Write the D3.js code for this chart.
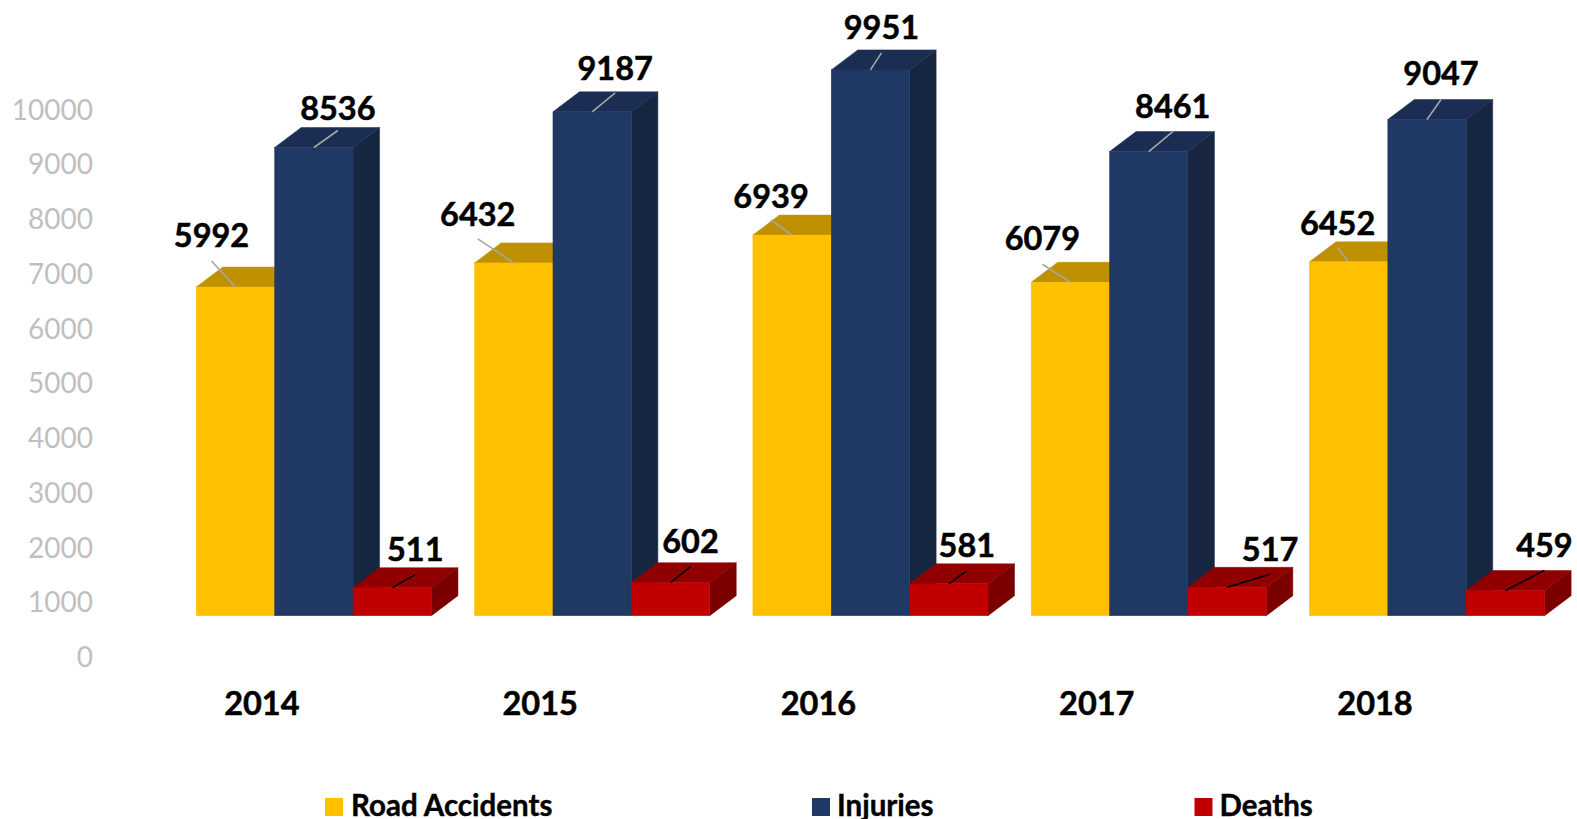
<!DOCTYPE html>
<html>
<head>
<meta charset="utf-8">
<script src="https://cdn.jsdelivr.net/npm/d3@7"></script>
<style>
  html, body { margin: 0; padding: 0; background: #fff; overflow: hidden; }
  text { font-family: Lato, "Open Sans", sans-serif; }
</style>
</head>
<body>
<div id="container"></div>
<script>
/* CONSTANTS AND GLOBALS */
const width = 1577,
  height = 819;

// DATA
const years = ["2014", "2015", "2016", "2017", "2018"];
const seriesNames = ["Road Accidents", "Injuries", "Deaths"];
const roadAccidents = [5992, 6432, 6939, 6079, 6452];
const injuries = [8536, 9187, 9951, 8461, 9047];
const deaths = [511, 602, 581, 517, 459];
const yTicks = [0, 1000, 2000, 3000, 4000, 5000, 6000, 7000, 8000, 9000, 10000];

// COLOURS: FRONT, TOP, SIDE OF EACH BOX
const colors = [
  { front: "#FFC000", top: "#BF9000", side: "#BF9000", leader: "#a6a6a6" },
  { front: "#203864", top: "#1B2D52", side: "#172640", leader: "#a6a6a6" },
  { front: "#C00000", top: "#900000", side: "#7A0000", leader: "#000" },
];

// MOVED LABELS: WHERE EACH LEADER LINE ENDS, RELATIVE TO THE TOP OF ITS BAR
const leaderOffsets = [
  [[-24, -26], [-36, -24], [-21, -15], [-28, -18], [-11, -14]],
  [[24, -17], [23, -19], [11, -17], [24, -20], [14, -20]],
  [[23, -13], [20, -16], [18, -13], [43, -13], [39, -20]],
];
// HOW FAR EACH LABEL SITS ABOVE THE END OF ITS LEADER LINE
const labelGaps = [
  [26.5, 25.5, 24.5, 26.5, 25.5],
  [23.5, 25.5, 26.5, 26.5, 26.5],
  [26.5, 26.5, 26.5, 25.5, 26.5],
];

const depthX = 26.5,
  depthY = 20,
  floorY = 615.7;

const svg = d3.select("#container")
  .append("svg")
  .attr("width", width)
  .attr("height", height)
  .style("display", "block");

// SCALES
const x0 = d3.scaleBand()
  .domain(years)
  .range([196.3, 1544.6])
  .paddingInner(0.155)
  .paddingOuter(0);

const x1 = d3.scaleBand()
  .domain(seriesNames)
  .range([0, x0.bandwidth()]);

const yAxisScale = d3.scaleLinear()
  .domain([0, 10000])
  .range([657.6, 110.2]);

// THE BARS STAND ON A RAISED 3D FLOOR, SO THEY GET THEIR OWN ZERO
const yBar = d3.scaleLinear()
  .domain([0, 10000])
  .range([floorY, floorY - 548.5]);

// AXES
const yAxis = svg.append("g")
  .attr("transform", "translate(93,0)")
  .call(d3.axisLeft(yAxisScale).tickValues(yTicks).tickFormat(d3.format("d")).tickSize(0).tickPadding(0));
yAxis.select(".domain").remove();
yAxis.selectAll("text")
  .attr("fill", "#bfbfbf")
  .style("font-family", "Lato")
  .style("font-size", "28px");

const xAxis = svg.append("g")
  .attr("transform", "translate(-52,692)")
  .call(d3.axisBottom(x0).tickSize(0).tickPadding(0));
xAxis.select(".domain").remove();
xAxis.selectAll("text")
  .attr("fill", "#000")
  .attr("stroke", "#000")
  .attr("stroke-width", 0.5)
  .style("font-family", "Lato")
  .style("font-weight", "700")
  .style("font-size", "32.5px");

// BARS
const seriesValues = [roadAccidents, injuries, deaths];
const flatBars = seriesNames.flatMap((name, s) =>
  years.map((year, i) => ({
    year,
    name,
    s,
    value: seriesValues[s][i],
    offset: leaderOffsets[s][i],
    gap: labelGaps[s][i],
  }))
);

const barX = d => x0(d.year) + x1(d.name);

const bars = svg.selectAll("g.bar")
  .data(flatBars.slice().sort((a, b) => d3.ascending(a.year, b.year) || a.s - b.s))
  .join("g")
  .attr("class", "bar");

bars.append("path")
  .attr("fill", d => colors[d.s].side)
  .attr("stroke", d => colors[d.s].side)
  .attr("stroke-width", 0.5)
  .attr("d", d => {
    const x = barX(d) + x1.bandwidth(), t = yBar(d.value);
    return `M${x},${t}L${x + depthX},${t - depthY}L${x + depthX},${floorY - depthY}L${x},${floorY}Z`;
  });

bars.append("path")
  .attr("fill", d => colors[d.s].top)
  .attr("stroke", d => colors[d.s].top)
  .attr("stroke-width", 0.5)
  .attr("d", d => {
    const x = barX(d), w = x1.bandwidth(), t = yBar(d.value);
    return `M${x},${t}L${x + depthX},${t - depthY}L${x + w + depthX},${t - depthY}L${x + w},${t}Z`;
  });

bars.append("rect")
  .attr("fill", d => colors[d.s].front)
  .attr("stroke", d => colors[d.s].front)
  .attr("stroke-width", 0.5)
  .attr("x", barX)
  .attr("y", d => yBar(d.value))
  .attr("width", x1.bandwidth())
  .attr("height", d => floorY - yBar(d.value));

// LEADER LINES AND VALUE LABELS
svg.selectAll("line.leader")
  .data(flatBars)
  .join("line")
  .attr("class", "leader")
  .attr("x1", d => barX(d) + x1.bandwidth() / 2)
  .attr("y1", d => yBar(d.value))
  .attr("x2", d => barX(d) + x1.bandwidth() / 2 + d.offset[0])
  .attr("y2", d => yBar(d.value) + d.offset[1])
  .attr("stroke", d => colors[d.s].leader)
  .attr("stroke-width", 1.6);

svg.selectAll("text.value")
  .data(flatBars)
  .join("text")
  .attr("class", "value")
  .attr("x", d => barX(d) + x1.bandwidth() / 2 + d.offset[0])
  .attr("y", d => yBar(d.value) + d.offset[1] - d.gap)
  .attr("text-anchor", "middle")
  .attr("dominant-baseline", "central")
  .attr("font-size", 32.5)
  .attr("font-weight", 700)
  .attr("fill", "#000")
  .attr("stroke", "#000")
  .attr("stroke-width", 0.5)
  .text(d => d.value);

// LEGEND
const legendX = [325, 812, 1194.5];
const legendTextX = [351, 837, 1219.5];
const legend = svg.selectAll("g.legend")
  .data(seriesNames)
  .join("g")
  .attr("class", "legend");

legend.append("rect")
  .attr("x", (d, i) => legendX[i])
  .attr("y", 798)
  .attr("width", 18)
  .attr("height", 18)
  .attr("fill", (d, i) => colors[i].front);

legend.append("text")
  .attr("x", (d, i) => legendTextX[i])
  .attr("y", 816)
  .attr("font-size", 29.5)
  .attr("font-weight", 700)
  .attr("fill", "#000")
  .attr("stroke", "#000")
  .attr("stroke-width", 0.4)
  .text(d => d);
</script>
</body>
</html>
